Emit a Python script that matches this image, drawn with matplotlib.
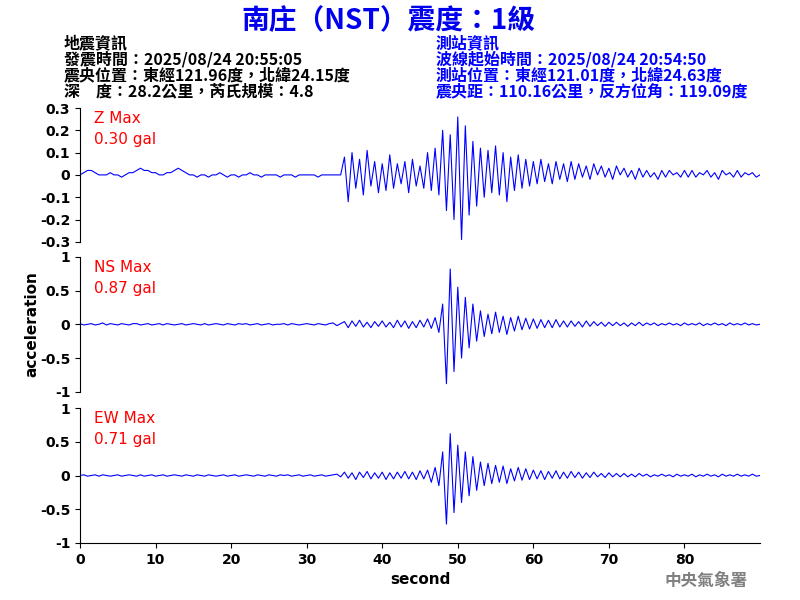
import matplotlib
matplotlib.use("Agg")
import matplotlib.pyplot as plt
import numpy as np

plt.rcParams['font.family'] = ['Noto Sans CJK TC', 'DejaVu Sans']

time = [i * 0.5 for i in range(181)]
z_vals = [0,0.01,0.02,0.02,0.01,0.0,0.0,0.0,0.01,0.0,
          0,-0.01,0.0,0.01,0.01,0.02,0.03,0.02,0.02,0.01,
          0.01,0.0,0.0,0.01,0.01,0.02,0.03,0.02,0.01,0.0,
          0.0,-0.01,0.0,0.0,-0.01,0.0,0.0,0.01,0.0,-0.01,
          0,0,-0.01,0.0,0.0,0.01,0.0,0.0,-0.01,0.0,
          0,0,0.0,-0.01,0,0,0,-0.01,0,0,
          0,0,0,-0.01,0,0,0,0,0,0,
          0.08,-0.12,0.1,-0.06,0.07,-0.09,0.11,-0.05,0.06,-0.08,0.05,-0.07,0.09,-0.06,0.05,-0.04,0.06,-0.08,0.07,-0.05,0.04,-0.06,0.1,-0.07,0.12,-0.09,
          0.2,-0.16,0.18,-0.2,0.26,-0.29,0.22,-0.18,0.15,-0.14,
          0.12,-0.1,0.11,-0.08,0.13,-0.09,0.1,-0.12,0.08,-0.07,0.09,-0.06,0.07,-0.05,
          0.06,-0.04,0.07,-0.03,0.05,-0.04,0.06,-0.02,0.05,-0.03,0.06,-0.02,0.05,-0.01,0.04,-0.02,0.05,0.0,0.04,-0.01,0.03,-0.02,0.04,0.0,0.03,-0.01,0.02,-0.02,0.03,-0.01,
          0.02,-0.01,0.01,-0.02,0.02,-0.01,0.02,0.0,0.01,-0.01,0.02,-0.01,0.02,-0.01,0.01,0.0,0.02,-0.01,0.01,-0.02,0.02,0.0,0.01,-0.01,0.02,-0.01,0.01,0.0,0.01,-0.01,0.0]
ns_vals = [0.01,-0.01,0.0,0.01,-0.01,0.0,0.02,-0.01,0.01,0.0,
           -0.01,0.01,0.0,-0.01,0.01,0.01,-0.01,0.0,0.01,-0.01,
           0.0,0.01,-0.01,0.01,0.0,-0.01,0.0,0.01,-0.01,0.0,
           0.01,0.0,-0.01,0.01,-0.01,0.0,0.01,0.0,-0.01,0.01,
           0.0,-0.01,0.01,0.0,0.01,-0.01,0.0,0.01,-0.01,0.0,
           0.01,-0.01,0.0,0.0,0.01,-0.01,0.01,0.0,-0.01,0.0,
           0.01,0.0,-0.01,0.01,0.0,-0.01,0.01,0.02,-0.02,0.01,
           0.04,-0.05,0.05,-0.03,0.06,-0.04,0.03,-0.05,0.04,-0.03,0.05,-0.04,0.03,-0.05,0.06,-0.04,0.05,-0.06,0.04,-0.05,0.06,-0.04,0.08,-0.06,0.1,-0.12,
           0.3,-0.88,0.82,-0.7,0.55,-0.5,0.4,-0.35,0.3,-0.25,
           0.2,-0.18,0.15,-0.14,0.18,-0.12,0.12,-0.15,0.1,-0.1,0.12,-0.08,0.09,-0.07,
           0.08,-0.06,0.07,-0.05,0.06,-0.05,0.07,-0.04,0.05,-0.04,0.05,-0.03,0.04,-0.04,0.05,-0.03,0.04,-0.02,0.03,-0.03,0.03,-0.02,0.03,-0.02,0.02,-0.03,0.02,-0.02,0.03,-0.02,
           0.02,-0.01,0.02,-0.02,0.01,-0.01,0.02,-0.01,0.01,-0.02,0.02,-0.01,0.01,-0.01,0.02,-0.02,0.01,-0.01,0.02,-0.01,0.01,-0.02,0.02,-0.01,0.01,-0.01,0.02,-0.01,0.01,-0.01,0.0]
ew_vals = [0.0,0.01,-0.01,0.0,0.01,-0.01,0.01,0.0,-0.01,0.0,
           0.01,-0.01,0.0,0.01,0.0,-0.01,0.01,-0.01,0.0,0.01,
           -0.01,0.0,0.01,-0.01,0.0,0.01,0.0,-0.01,0.01,0.0,
           -0.01,0.01,0.0,-0.01,0.01,0.0,-0.01,0.0,0.01,-0.01,
           0.0,0.01,-0.01,0.0,0.01,0.0,-0.01,0.01,0.0,-0.01,
           0.01,0.0,-0.01,0.01,0.0,0.01,-0.01,0.0,0.01,-0.01,
           0.0,0.01,-0.01,0.0,0.01,-0.01,0.0,0.01,0.02,-0.02,
           0.05,-0.04,0.04,-0.06,0.05,-0.03,0.06,-0.05,0.04,-0.04,0.05,-0.06,0.04,-0.05,0.05,-0.04,0.06,-0.05,0.05,-0.06,0.07,-0.05,0.08,-0.1,0.12,-0.15,
           0.35,-0.72,0.62,-0.55,0.45,-0.4,0.35,-0.3,0.28,-0.22,
           0.2,-0.15,0.18,-0.12,0.15,-0.1,0.14,-0.12,0.1,-0.08,0.12,-0.07,0.1,-0.06,
           0.08,-0.05,0.07,-0.06,0.06,-0.04,0.07,-0.05,0.05,-0.04,0.06,-0.03,0.05,-0.04,0.04,-0.03,0.05,-0.02,0.03,-0.03,0.04,-0.02,0.03,-0.02,0.03,-0.02,0.02,-0.02,0.03,-0.01,
           0.02,-0.02,0.01,-0.01,0.02,-0.01,0.01,-0.02,0.02,-0.01,0.01,-0.01,0.02,-0.02,0.01,-0.01,0.02,-0.01,0.01,-0.02,0.02,-0.01,0.01,-0.01,0.02,-0.01,0.01,-0.01,0.02,-0.01,0.0]

labels = ["Z Max\n0.30 gal", "NS Max\n0.87 gal", "EW Max\n0.71 gal"]
series = [z_vals, ns_vals, ew_vals]
ylims = [(-0.3, 0.3), (-1, 1), (-1, 1)]
yticks = [[-0.3,-0.2,-0.1,0,0.1,0.2,0.3], [-1,-0.5,0,0.5,1], [-1,-0.5,0,0.5,1]]
yticklabels = [["-0.3","-0.2","-0.1","0","0.1","0.2","0.3"], ["-1","-0.5","0","0.5","1"], ["-1","-0.5","0","0.5","1"]]

fig = plt.figure(figsize=(8, 6), dpi=100)
boxes = [(0.597, 0.82), (0.347, 0.572), (0.095, 0.32)]
for i, (b, t) in enumerate(boxes):
    ax = fig.add_axes([0.1, b, 0.85, t - b])
    ax.plot(time, series[i], color='blue', lw=0.8)
    ax.set_xlim(0, 90)
    ax.set_ylim(*ylims[i])
    ax.set_yticks(yticks[i])
    ax.set_yticklabels(yticklabels[i], fontsize=10, fontweight='bold', family='DejaVu Sans')
    for s in ['top', 'right']:
        ax.spines[s].set_visible(False)
    ax.text(0.02, 0.98, labels[i], transform=ax.transAxes, color='red', fontsize=11,
            va='top', ha='left', family='DejaVu Sans', linespacing=1.5)
    if i < 2:
        ax.spines['bottom'].set_visible(False)
        ax.set_xticks([])
    else:
        ax.set_xticks([0,10,20,30,40,50,60,70,80])
        ax.set_xticklabels([str(v) for v in [0,10,20,30,40,50,60,70,80]], fontsize=10,
                           fontweight='bold', family='DejaVu Sans')
        ax.set_xlabel("second", fontsize=11, fontweight='bold', family='DejaVu Sans')

fig.text(0.04, 0.46, "acceleration", rotation=90, ha='center', va='center', fontsize=11,
         fontweight='bold', family='DejaVu Sans')
fig.text(0.485, 0.965, "南庄（NST）震度：1級", color='#0000ee', fontsize=20, fontweight='bold',
         ha='center', va='center')
left = ["地震資訊", "發震時間：2025/08/24 20:55:05", "震央位置：東經121.96度，北緯24.15度",
        "深　度：28.2公里，芮氏規模：4.8"]
right = ["測站資訊", "波線起始時間：2025/08/24 20:54:50", "測站位置：東經121.01度，北緯24.63度",
         "震央距：110.16公里，反方位角：119.09度"]
for k in range(4):
    y = 0.928 - k * 0.027
    fig.text(0.08, y, left[k], fontsize=11.5, fontweight='bold', color='black', va='center')
    fig.text(0.545, y, right[k], fontsize=11.5, fontweight='bold', color='blue', va='center')
fig.text(0.935, 0.032, "中央氣象署", color='gray', fontsize=12, fontweight='bold', ha='right', va='center')
fig.savefig("out.png", dpi=100)
